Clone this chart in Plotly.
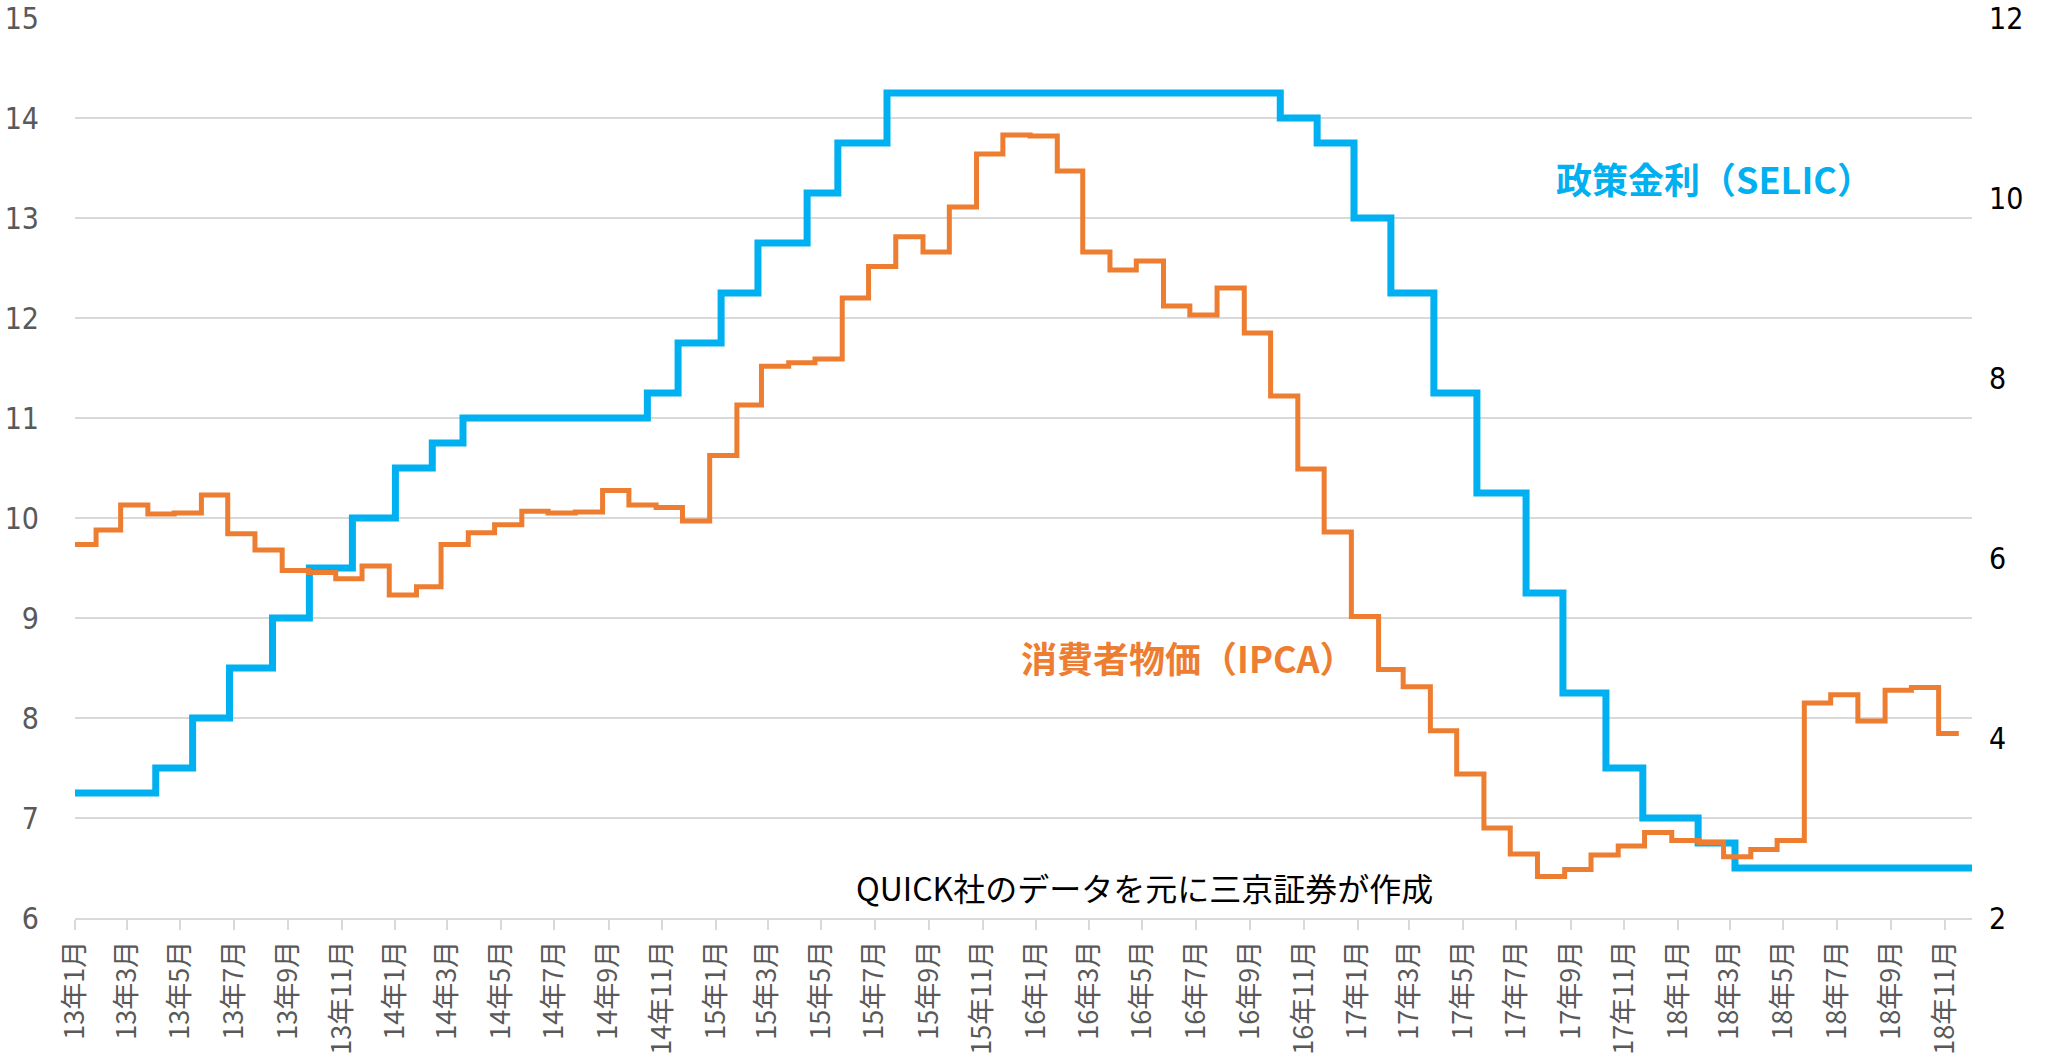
import pandas as pd
import plotly.graph_objects as go

# ---------------- data ----------------
# Policy rate (SELIC): dates on which a new level starts (as plotted), and levels
selic_dates = [
    "2013-01-01", "2013-04-03", "2013-05-15", "2013-06-26", "2013-08-14", "2013-09-25",
    "2013-11-13", "2014-01-01", "2014-02-12", "2014-03-19", "2014-10-15", "2014-11-19",
    "2015-01-07", "2015-02-18", "2015-04-15", "2015-05-20", "2015-07-15", "2016-10-05",
    "2016-11-16", "2016-12-28", "2017-02-08", "2017-03-29", "2017-05-17", "2017-07-12",
    "2017-08-23", "2017-10-11", "2017-11-22", "2018-01-24", "2018-03-07", "2018-12-02",
]
selic_values = [
    7.25, 7.50, 8.00, 8.50, 9.00, 9.50,
    10.00, 10.50, 10.75, 11.00, 11.25, 11.75,
    12.25, 12.75, 13.25, 13.75, 14.25, 14.00,
    13.75, 13.00, 12.25, 11.25, 10.25, 9.25,
    8.25, 7.50, 7.00, 6.75, 6.50, 6.50,
]

# Consumer prices (IPCA, y/y %), monthly Jan 2013 - Nov 2018
ipca_months = pd.date_range("2013-01-01", "2018-11-01", freq="MS")
ipca_values = [
    6.15, 6.31, 6.59, 6.49, 6.50, 6.70, 6.27, 6.09, 5.86, 5.84, 5.77, 5.91,   # 2013
    5.59, 5.68, 6.15, 6.28, 6.37, 6.52, 6.50, 6.51, 6.75, 6.59, 6.56, 6.41,   # 2014
    7.14, 7.70, 8.13, 8.17, 8.21, 8.89, 9.24, 9.57, 9.40, 9.90, 10.49, 10.70, # 2015
    10.69, 10.30, 9.40, 9.20, 9.30, 8.80, 8.70, 9.00, 8.50, 7.80, 6.99, 6.29, # 2016
    5.35, 4.76, 4.57, 4.08, 3.60, 3.00, 2.71, 2.46, 2.54, 2.70, 2.80, 2.95,   # 2017
    2.86, 2.84, 2.68, 2.76, 2.86, 4.39, 4.48, 4.19, 4.53, 4.56, 4.05,         # 2018
]
ipca_last_date = "2018-11-17"

# x-axis tick labels (every two months)
tick_months = pd.date_range("2013-01-01", "2018-11-01", freq="2MS")
tick_labels = [f"{d.year % 100}年{d.month}月" for d in tick_months]

# ---------------- figure ----------------
BLUE = "#00B0F0"
ORANGE = "#ED7D31"
GRID = "#D9D9D9"
NUM_FONT = "Liberation Sans Narrow, DejaVu Sans Condensed, Liberation Sans, sans-serif"
JP_FONT = "Noto Sans CJK JP, sans-serif"

# plotted start of each monthly IPCA level (a week before the month)
ipca_x = list(ipca_months - pd.Timedelta(days=7))
ipca_x[0] = pd.Timestamp("2013-01-01")
ipca_x = ipca_x + [pd.Timestamp(ipca_last_date)]
ipca_y = ipca_values + [ipca_values[-1]]

fig = go.Figure()
fig.add_trace(go.Scatter(
    x=pd.to_datetime(selic_dates), y=selic_values, mode="lines",
    line=dict(color=BLUE, width=7, shape="hv"), name="政策金利（SELIC）",
    yaxis="y",
))
fig.add_trace(go.Scatter(
    x=ipca_x, y=ipca_y, mode="lines",
    line=dict(color=ORANGE, width=5, shape="hv"), name="消費者物価（IPCA）",
    yaxis="y2",
))

fig.update_layout(
    width=2057, height=1064,
    margin=dict(l=75, r=85, t=18, b=146),
    paper_bgcolor="white", plot_bgcolor="white",
    showlegend=False,
    xaxis=dict(
        type="date", automargin=False,
        range=["2013-01-01", "2018-12-02"],
        tickmode="array", tickvals=list(tick_months), ticktext=tick_labels,
        tickangle=-90,
        tickfont=dict(family=JP_FONT, size=27, color="#595959"),
        showgrid=False, zeroline=False,
        showline=True, linecolor=GRID, linewidth=2,
        ticks="outside", ticklen=10, tickcolor=GRID, tickwidth=2,
    ),
    yaxis=dict(
        range=[6, 15], dtick=1, tick0=6, automargin=False,
        showgrid=True, gridcolor=GRID, gridwidth=2,
        zeroline=False, showline=False,
        tickfont=dict(family=NUM_FONT, size=30, color="#595959"),
        ticklabelstandoff=35,
    ),
    yaxis2=dict(
        range=[2, 12], dtick=2, tick0=2, automargin=False,
        overlaying="y", side="right",
        showgrid=False, zeroline=False, showline=False,
        tickfont=dict(family=NUM_FONT, size=30, color="#000000"),
        ticklabelstandoff=16,
    ),
    annotations=[
        dict(text="<b>政策金利（SELIC）</b>", xref="paper", yref="paper",
             x=0.864, y=0.822, xanchor="center", yanchor="middle", showarrow=False,
             font=dict(family=JP_FONT, size=36, color=BLUE)),
        dict(text="<b>消費者物価（IPCA）</b>", xref="paper", yref="paper",
             x=0.587, y=0.29, xanchor="center", yanchor="middle", showarrow=False,
             font=dict(family=JP_FONT, size=36, color=ORANGE)),
        dict(text="QUICK社のデータを元に三京証券が作成", xref="paper", yref="paper",
             x=0.564, y=0.034, xanchor="center", yanchor="middle", showarrow=False,
             font=dict(family=JP_FONT, size=32, color="#000000")),
    ],
)

# remove the browser's default page margin so the figure sits at the window corner
fig.write_html("out.html", config={"displayModeBar": False},
               post_script="document.body.style.margin='0';")
